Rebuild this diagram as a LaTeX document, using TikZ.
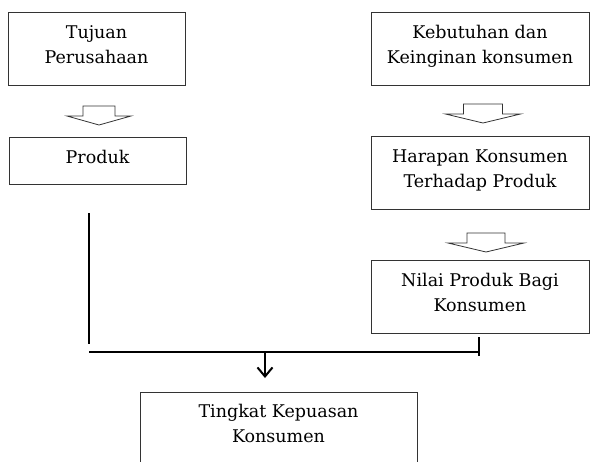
\documentclass[tikz,border=0pt]{standalone}
\usepackage{fontspec}
\setmainfont{DejaVu Serif}
\usetikzlibrary{positioning,arrows.meta}

\begin{document}
\begin{tikzpicture}[
    x=1pt, y=-1pt,
    box/.style={draw=black!80, line width=0.8pt, rectangle, align=center, inner sep=0pt, text depth=8pt, font=\fontsize{17.5}{25}\selectfont},
    leftbox/.style={box, minimum width=177pt},
    rightbox/.style={box, minimum width=218pt},
    hollow/.style={draw=black!80, line width=0.8pt, fill=white, line join=miter},
    joinline/.style={line width=2.6pt},
    arrow/.style={line width=2pt, -{Straight Barb[length=9pt, width=15pt, line width=2pt]}},
    pics/hollowarrow/.style 2 args={code={
      \draw[hollow] (-#1,0) -- (#1,0) -- (#1,10) -- (#2,10) -- (0,19) -- (-#2,10) -- (-#1,10) -- cycle;
    }}
]
  \useasboundingbox (0,0) rectangle (592,461);

  % Nodes
  \node (tujuan) [leftbox, minimum height=73pt] at (96.5,48.5) {Tujuan\\Perusahaan};
  \node (produk) [leftbox, minimum height=47pt] at (97.5,160.5) {Produk};

  \node (kebutuhan) [rightbox, minimum height=73pt] at (480,48.5) {Kebutuhan dan\\Keinginan konsumen};
  \node (harapan) [rightbox, minimum height=73pt] at (480,172.5) {Harapan Konsumen\\Terhadap Produk};
  \node (nilai) [rightbox, minimum height=73pt] at (480,296.5) {Nilai Produk Bagi\\Konsumen};

  \node (kepuasan) [box, minimum width=277pt, minimum height=70pt] at (278.5,427) {Tingkat Kepuasan\\Konsumen};

  % Hollow arrows
  \pic at (99,106) {hollowarrow={16}{32}};
  \pic at (483,104) {hollowarrow={19.5}{37.5}};
  \pic at (486,233) {hollowarrow={19}{38}};

  % Joining lines
  \coordinate (ltop) at (89,213);
  \coordinate (lbot) at (89,344);
  \coordinate (jleft) at (89,352);
  \coordinate (jright) at (479,352);
  \coordinate (tickend) at (479,356);
  \coordinate (jmid) at (265,352);

  \draw [joinline] (ltop) -- (lbot);
  \draw [joinline] (jleft) -- (jright);
  \draw [joinline] ([yshift=-4pt]jright |- nilai.south) -- (tickend);
  \draw [arrow] (jmid) -- (jmid |- 0,378);
\end{tikzpicture}
\end{document}
